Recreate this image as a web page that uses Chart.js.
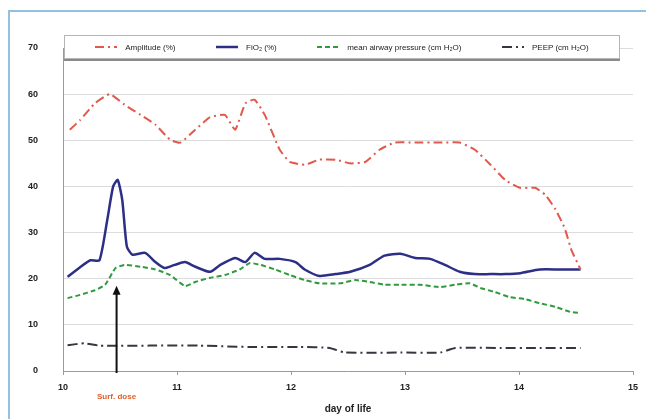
<!DOCTYPE html>
<html lang="en">
<head>
  <meta charset="UTF-8">
  <title>Ventilation settings by day of life</title>
  <script src="https://cdn.jsdelivr.net/npm/chart.js"></script>
  <style>
    body { margin: 0; background: #fff; font-family: "Liberation Sans", Arial, sans-serif; }
    #wrap { position: relative; width: 646px; height: 419px; overflow: hidden; }
    #frame { position: absolute; left: 8px; top: 10px; width: 700px; height: 500px;
             border-left: 2px solid #93c3dc; border-top: 2px solid #93c3dc; }
    #chart { position: absolute; left: 0; top: 0; }
    #legend { position: absolute; left: 64px; top: 35px; width: 556px; height: 24px;
              background: #fff; border: 1px solid #b5b5b5; box-shadow: 0 2px 0 #8a8a8a;
              display: flex; align-items: center; justify-content: space-around;
              font-size: 8px; color: #222; padding: 0 10px; box-sizing: border-box; }
    #legend span.item { display: flex; align-items: center; gap: 8px; white-space: nowrap; }
  </style>
</head>
<body>
  <div id="wrap">
    <div id="frame"></div>
    <canvas id="chart" width="646" height="419"></canvas>
    <div id="legend"></div>
  </div>

  <script>
    // axis
    const xTicks = [10, 11, 12, 13, 14, 15];
    const yTicks = [0, 10, 20, 30, 40, 50, 60, 70];

    // Amplitude (%) - red dash-dot
    const ampDays = [10.06, 10.15, 10.28, 10.41, 10.54, 10.68, 10.81, 10.94, 11.03, 11.16, 11.29, 11.42, 11.51, 11.6, 11.68, 11.77,
      11.9, 11.99, 12.12, 12.25, 12.39, 12.52, 12.65, 12.78, 12.91, 13.09, 13.31, 13.48, 13.61, 13.75, 13.88, 14.01,
      14.14, 14.23, 14.32, 14.4, 14.46, 14.54];
    const ampValues = [52.3, 54.4, 58, 60, 57.7, 55.5, 53.4, 50.1, 49.5, 52.3, 55, 55.5, 52.3, 58, 58.8, 55.5,
      48, 45.3, 44.7, 45.8, 45.8, 45, 45.3, 48, 49.5, 49.5, 49.5, 49.5, 48, 44.7, 41.4, 39.7,
      39.7, 38.2, 35, 31, 26.2, 22];

    // FiO2 (%) - navy solid
    const fio2Days = [10.04, 10.15, 10.24, 10.32, 10.39, 10.44, 10.48, 10.52, 10.56, 10.61, 10.72, 10.81, 10.89, 10.98, 11.07, 11.16,
      11.29, 11.38, 11.51, 11.6, 11.68, 11.77, 11.9, 12.04, 12.12, 12.25, 12.39, 12.52, 12.69, 12.82, 12.96, 13.09,
      13.22, 13.35, 13.48, 13.61, 13.75, 13.88, 14.01, 14.18, 14.36, 14.54];
    const fio2Values = [20.4, 22.5, 24, 24, 33, 40, 41.4, 37, 27, 25.2, 25.6, 23.6, 22.3, 23, 23.6, 22.6,
      21.5, 23, 24.5, 23.6, 25.6, 24.3, 24.3, 23.6, 22, 20.6, 21, 21.5, 23, 25, 25.4, 24.5,
      24.3, 23, 21.5, 21, 21, 21, 21.2, 22, 22, 22];

    // mean airway pressure (cm H2O) - green dashed
    const mapDays = [10.04, 10.15, 10.28, 10.37, 10.46, 10.54, 10.68, 10.81, 10.94, 11.07, 11.16, 11.29, 11.42, 11.55, 11.64, 11.73,
      11.86, 11.99, 12.12, 12.25, 12.43, 12.56, 12.69, 12.82, 12.96, 13.13, 13.31, 13.44, 13.57, 13.66, 13.79, 13.92,
      14.05, 14.18, 14.32, 14.45, 14.54];
    const mapValues = [15.8, 16.5, 17.5, 18.7, 22.3, 23, 22.6, 22, 20.8, 18.4, 19.3, 20.2, 20.8, 22, 23.4, 23,
      22, 20.8, 19.7, 19, 19, 19.7, 19.3, 18.7, 18.7, 18.7, 18.2, 18.7, 19, 18, 17.1, 16,
      15.6, 14.7, 13.9, 12.8, 12.6];

    // PEEP (cm H2O) - dark dash-dot
    const peepDays = [10.04, 10.19, 10.32, 10.76, 11.2, 11.64, 12.08, 12.34, 12.47, 12.96, 13.31, 13.44, 13.83, 14.18, 14.54];
    const peepValues = [5.6, 6, 5.5, 5.5, 5.5, 5.2, 5.2, 5, 4, 4, 4, 5, 5, 5, 5];

    // surfactant dose marker
    const surfDay = 10.47;
    const surfArrowTop = 18.5;
    const surfLabel = 'Surf. dose';

    const seriesLabels = ['Amplitude (%)', 'FiO\u2082 (%)', 'mean airway pressure (cm H\u2082O)', 'PEEP (cm H\u2082O)'];
    const seriesColors = ['#e2584a', '#2c2f85', '#2f9b3e', '#3a3440'];
    const seriesDash = [[9, 4, 2, 4], [], [5, 3], [10, 4, 2, 4]];
    const seriesWidth = [2, 2.5, 2, 2];

    function toPoints(days, values) {
      return days.map((d, i) => ({ x: d, y: values[i] }));
    }

    const seriesData = [
      toPoints(ampDays, ampValues),
      toPoints(fio2Days, fio2Values),
      toPoints(mapDays, mapValues),
      toPoints(peepDays, peepValues)
    ];

    const datasets = seriesLabels.map((label, i) => ({
      label: label,
      data: seriesData[i],
      borderColor: seriesColors[i],
      borderDash: seriesDash[i],
      borderWidth: seriesWidth[i],
      pointRadius: 0,
      fill: false,
      tension: i === 1 ? 0.2 : 0.15
    }));

    // arrow + label for surfactant dose
    const surfMarker = {
      id: 'surfMarker',
      afterDatasetsDraw(chart) {
        const ctx = chart.ctx;
        const xs = chart.scales.x, ys = chart.scales.y;
        const x = xs.getPixelForValue(surfDay);
        const yTop = ys.getPixelForValue(surfArrowTop);
        const yBot = ys.getPixelForValue(0) + 2;
        ctx.save();
        ctx.strokeStyle = '#111';
        ctx.fillStyle = '#111';
        ctx.lineWidth = 2;
        ctx.beginPath();
        ctx.moveTo(x, yBot);
        ctx.lineTo(x, yTop + 6);
        ctx.stroke();
        ctx.beginPath();
        ctx.moveTo(x, yTop);
        ctx.lineTo(x - 4, yTop + 9);
        ctx.lineTo(x + 4, yTop + 9);
        ctx.closePath();
        ctx.fill();
        ctx.font = 'bold 8px "Liberation Sans", Arial, sans-serif';
        ctx.fillStyle = '#e0602a';
        ctx.textAlign = 'center';
        ctx.fillText(surfLabel, x, ys.getPixelForValue(0) + 28);
        ctx.restore();
      }
    };

    const chart = new Chart(document.getElementById('chart'), {
      type: 'line',
      data: { datasets: datasets },
      options: {
        responsive: false,
        animation: false,
        layout: { padding: { left: 0, right: 13, top: 48, bottom: 0 } },
        plugins: { legend: { display: false }, tooltip: { enabled: false } },
        scales: {
          x: {
            type: 'linear',
            min: xTicks[0],
            max: xTicks[xTicks.length - 1],
            afterBuildTicks: (s) => { s.ticks = xTicks.map(v => ({ value: v })); },
            afterFit: (s) => { s.height = 48; },
            grid: { drawOnChartArea: false, color: '#9a9a9a', tickLength: 4 },
            border: { color: '#9a9a9a' },
            ticks: { padding: 7, color: '#222', font: { size: 9, weight: 'bold', family: '"Liberation Sans", Arial' } },
            title: { display: true, text: 'day of life', color: '#222',
                     font: { size: 10, weight: 'bold', family: '"Liberation Sans", Arial' }, padding: { top: 2, bottom: 4 } }
          },
          y: {
            min: yTicks[0],
            max: yTicks[yTicks.length - 1],
            afterBuildTicks: (s) => { s.ticks = yTicks.map(v => ({ value: v })); },
            afterFit: (s) => { s.width = 63; },
            grid: { color: '#dcdcdc', drawTicks: false },
            border: { color: '#9a9a9a' },
            ticks: { padding: 25, color: '#222', font: { size: 9, weight: 'bold', family: '"Liberation Sans", Arial' } }
          }
        }
      },
      plugins: [surfMarker]
    });

    // html legend from the dataset styles
    const legend = document.getElementById('legend');
    seriesLabels.forEach((label, i) => {
      const item = document.createElement('span');
      item.className = 'item';
      item.innerHTML = '<svg width="22" height="6"><line x1="0" y1="3" x2="22" y2="3" stroke="' + seriesColors[i] +
        '" stroke-width="' + seriesWidth[i] + '" stroke-dasharray="' + (seriesDash[i].join(' ') || 'none') + '"/></svg>';
      const t = document.createElement('span');
      t.textContent = label;
      item.appendChild(t);
      legend.appendChild(item);
    });
  </script>
</body>
</html>
